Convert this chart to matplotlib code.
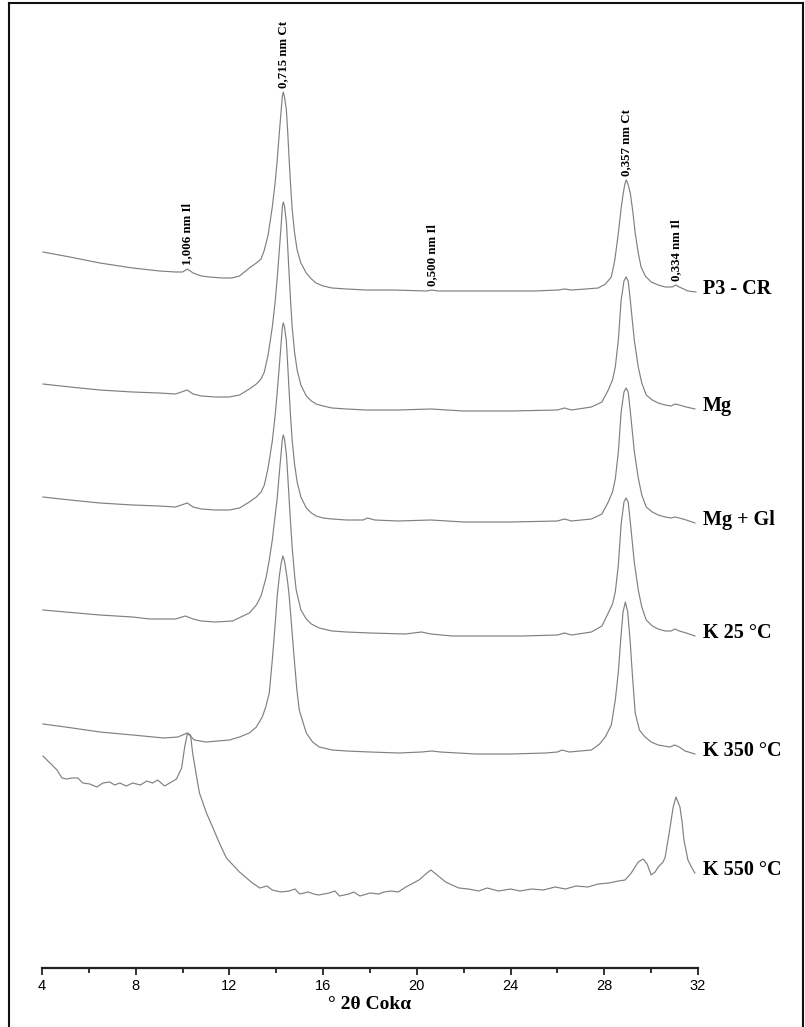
import matplotlib
matplotlib.use("Agg")
import matplotlib.pyplot as plt
from matplotlib.lines import Line2D
from matplotlib.ticker import MultipleLocator

# ---- diffractogram traces (2θ in degrees, relative intensity) ----
tt_p3 = [4.04, 5.19, 6.47, 7.87, 9.02, 9.70, 10.0, 10.21, 10.45, 10.8, 11.15, 11.7, 12.1,
         12.43, 12.85, 13.15, 13.35, 13.49, 13.65, 13.83, 13.95, 14.04, 14.13, 14.21, 14.26,
         14.30, 14.35, 14.43, 14.49, 14.55, 14.61, 14.68, 14.78, 14.89, 15.05, 15.28, 15.50,
         15.70, 16.0, 16.38, 17.0, 17.83, 19.0, 20.4, 20.64, 20.9, 22.0, 23.49, 25.0, 26.04,
         26.3, 26.6, 27.2, 27.74, 28.05, 28.30, 28.45, 28.60, 28.72, 28.81, 28.88, 28.94,
         29.01, 29.11, 29.22, 29.32, 29.45, 29.57, 29.75, 30.0, 30.3, 30.6, 30.9, 31.05,
         31.2, 31.57, 31.91]
i_p3 = [40, 35, 29, 24, 21, 20, 20, 23, 19, 16, 15, 14, 14,
        16, 24, 29, 33, 42, 57, 85, 109, 132, 159, 182, 196,
        200, 195, 182, 159, 132, 107, 82, 59, 42, 29, 19, 13,
        9, 6, 4, 3, 2, 2, 1, 2, 1, 1, 1, 1, 2,
        3, 2, 3, 4, 8, 15, 32, 59, 84, 99, 108, 112,
        108, 99, 80, 59, 39, 25, 16, 10, 7, 5, 5, 7,
        5, 1, 0]

tt_mg = [4.04, 5.2, 6.47, 7.87, 9.0, 9.7, 10.2, 10.45, 10.8, 11.4, 12.0, 12.43, 12.85,
         13.15, 13.35, 13.49, 13.65, 13.83, 13.95, 14.04, 14.13, 14.21, 14.26, 14.30, 14.35,
         14.43, 14.49, 14.55, 14.61, 14.68, 14.78, 14.89, 15.05, 15.28, 15.50, 15.70, 16.0,
         16.38, 17.0, 17.83, 19.2, 20.6, 22.0, 24.0, 26.0, 26.3, 26.6, 27.45, 27.9, 28.17,
         28.35, 28.47, 28.6, 28.72, 28.84, 28.93, 29.02, 29.11, 29.28, 29.45, 29.6, 29.79,
         30.05, 30.3, 30.6, 30.85, 31.02, 31.2, 31.5, 31.87]
i_mg = [25, 22, 19, 17, 16, 15, 19, 15, 13, 12, 12, 14, 20,
        25, 30, 37, 54, 82, 107, 131, 159, 184, 203, 207, 203,
        187, 161, 134, 108, 82, 57, 39, 24, 13, 8, 5, 3,
        1, 0, -1, -1, 0, -2, -2, -1, 1, -1, 2, 7, 19,
        29, 42, 69, 109, 128, 132, 128, 109, 69, 42, 26, 14,
        9, 6, 4, 3, 5, 4, 2, 0]

tt_mggl = [4.04, 5.2, 6.47, 7.87, 9.0, 9.7, 10.2, 10.45, 10.8, 11.4, 12.0, 12.43, 12.85,
           13.15, 13.35, 13.49, 13.65, 13.83, 13.95, 14.04, 14.13, 14.21, 14.26, 14.30, 14.35,
           14.43, 14.49, 14.55, 14.61, 14.68, 14.78, 14.89, 15.05, 15.28, 15.50, 15.70, 16.0,
           16.38, 17.0, 17.7, 17.9, 18.2, 19.2, 20.6, 22.0, 24.0, 26.0, 26.3, 26.6, 27.45,
           27.9, 28.17, 28.35, 28.47, 28.6, 28.72, 28.84, 28.93, 29.02, 29.11, 29.28, 29.45,
           29.6, 29.79, 30.05, 30.3, 30.6, 30.85, 31.02, 31.2, 31.5, 31.87]
i_mggl = [26, 23, 20, 18, 17, 16, 20, 16, 14, 13, 13, 15, 21,
          26, 31, 38, 55, 82, 107, 131, 157, 181, 196, 200, 196,
          182, 157, 131, 106, 82, 59, 41, 26, 15, 10, 7, 5,
          4, 3, 3, 5, 3, 2, 3, 1, 1, 2, 4, 2, 4,
          9, 21, 31, 44, 71, 111, 131, 135, 131, 112, 72, 45,
          28, 16, 11, 8, 6, 5, 6, 5, 3, 0]

tt_k25 = [4.04, 5.0, 6.47, 7.87, 8.6, 9.7, 10.12, 10.45, 10.8, 11.4, 12.13, 12.85, 13.15,
          13.35, 13.57, 13.70, 13.83, 13.95, 14.04, 14.13, 14.21, 14.26, 14.30, 14.35, 14.43,
          14.49, 14.55, 14.61, 14.68, 14.78, 14.85, 15.05, 15.28, 15.50, 15.83, 16.38, 17.0,
          18.0, 19.5, 20.2, 20.6, 21.5, 23.0, 24.5, 26.0, 26.3, 26.6, 27.45, 27.9, 28.17,
          28.35, 28.47, 28.6, 28.72, 28.84, 28.93, 29.02, 29.11, 29.28, 29.45, 29.6, 29.79,
          30.05, 30.3, 30.6, 30.85, 31.02, 31.2, 31.5, 31.87]
i_k25 = [26, 24, 21, 19, 17, 17, 20, 17, 15, 14, 15, 23, 31,
         40, 59, 76, 96, 120, 138, 163, 184, 197, 201, 197, 182,
         160, 136, 113, 88, 61, 46, 26, 17, 12, 8, 5, 4,
         3, 2, 4, 2, 0, 0, 0, 1, 3, 1, 4, 10, 23,
         32, 44, 71, 112, 134, 138, 134, 114, 74, 46, 29, 16,
         10, 7, 5, 5, 7, 5, 3, 0]

tt_k350 = [4.04, 5.0, 6.47, 7.87, 9.2, 9.8, 10.2, 10.5, 11.0, 11.5, 12.0, 12.43, 12.85,
           13.15, 13.40, 13.55, 13.70, 13.83, 13.95, 14.04, 14.13, 14.21, 14.28, 14.35, 14.43,
           14.49, 14.55, 14.66, 14.77, 14.88, 14.98, 15.28, 15.55, 15.83, 16.38, 17.0, 18.0,
           19.23, 20.2, 20.64, 21.0, 22.5, 24.0, 25.5, 26.0, 26.2, 26.5, 27.45, 27.8, 28.04,
           28.3, 28.47, 28.6, 28.7, 28.8, 28.9, 29.0, 29.1, 29.2, 29.32, 29.5, 29.74,
           30.0, 30.3, 30.8, 31.0, 31.2, 31.45, 31.87]
i_k350 = [30, 27, 22, 19, 16, 17, 21, 14, 12, 13, 14, 17, 21,
          27, 37, 47, 61, 94, 129, 158, 178, 191, 198, 193, 181,
          171, 158, 126, 94, 64, 44, 21, 12, 7, 4, 3, 2,
          1, 2, 3, 2, 0, 0, 1, 2, 4, 2, 4, 10, 17,
          29, 54, 82, 114, 142, 152, 142, 114, 79, 41, 24, 17,
          12, 9, 7, 9, 7, 3, 0]

tt_k550 = [4.04, 4.34, 4.64, 4.85, 5.06, 5.28, 5.53, 5.74, 6.04, 6.34, 6.60, 6.89, 7.1,
           7.32, 7.6, 7.87, 8.2, 8.47, 8.72, 8.94, 9.23, 9.53, 9.74, 9.96, 10.09, 10.21,
           10.34, 10.43, 10.60, 10.72, 11.02, 11.28, 11.57, 11.87, 12.43, 12.98, 13.3, 13.6,
           13.83, 14.2, 14.55, 14.8, 15.0, 15.36, 15.6, 15.8, 16.26, 16.5, 16.7, 17.1, 17.3,
           17.57, 18.0, 18.38, 18.6, 18.9, 19.2, 19.53, 20.09, 20.43, 20.60, 20.81, 21.23,
           21.5, 21.79, 22.2, 22.64, 23.0, 23.49, 24.0, 24.4, 24.89, 25.4, 25.9, 26.34, 26.8,
           27.3, 27.74, 28.2, 28.60, 28.89, 29.15, 29.45, 29.66, 29.83, 30.0, 30.17, 30.30,
           30.51, 30.60, 30.72, 30.81, 30.94, 31.06, 31.23, 31.32, 31.40, 31.57, 31.74, 31.87]
i_k550 = [134, 127, 120, 112, 111, 112, 112, 107, 106, 103, 107, 108, 105,
          107, 104, 107, 105, 109, 107, 110, 104, 108, 111, 122, 143, 157,
          155, 137, 113, 97, 77, 63, 47, 32, 18, 7, 2, 4,
          0, -2, -1, 1, -4, -2, -4, -5, -3, -1, -6, -4, -2,
          -6, -3, -4, -2, -1, -2, 3, 10, 17, 20, 16, 8,
          5, 2, 1, -1, 2, -1, 1, -1, 1, 0, 3, 1, 4,
          3, 6, 7, 9, 10, 17, 28, 31, 26, 15, 18, 23,
          28, 33, 50, 63, 83, 93, 83, 68, 50, 30, 22, 17]

sample_names = ["P3 - CR", "Mg", "Mg + Gl", "K 25 °C", "K 350 °C", "K 550 °C"]
stack_offsets = [676, 559, 445, 332, 214, 78]

peak_labels = ["1,006 nm Il", "0,715 nm Ct", "0,500 nm Il", "0,357 nm Ct", "0,334 nm Il"]
peak_positions = [10.21, 14.30, 20.64, 28.94, 31.05]

traces = [(tt_p3, i_p3), (tt_mg, i_mg), (tt_mggl, i_mggl),
          (tt_k25, i_k25), (tt_k350, i_k350), (tt_k550, i_k550)]

W, H = 805, 1027
fig = plt.figure(figsize=(W / 100, H / 100), dpi=100)
ax = fig.add_axes([42 / W, 59 / H, 656 / W, 964 / H])

line_color = "#808080"
for (tt, ii), off, name in zip(traces, stack_offsets, sample_names):
    ax.plot(tt, [v + off for v in ii], color=line_color, lw=0.85, solid_joinstyle="round")
    ax.text(32.2, off + ii[-1] + 3, name, ha="left", va="center",
            fontsize=14.5, fontweight="bold", family="Liberation Serif", clip_on=False)

# d-spacing annotations above the top trace
tt_top, i_top = traces[0]
off_top = stack_offsets[0]
for lab, pos in zip(peak_labels, peak_positions):
    j = min(range(len(tt_top)), key=lambda k: abs(tt_top[k] - pos))
    ax.text(pos, off_top + i_top[j] + 4, lab, rotation=90, ha="center", va="bottom",
            fontsize=9.3, fontweight="bold", family="Liberation Serif")

ax.set_xlim(4, 32)
ax.set_ylim(0, 964)
for s in ("top", "right", "left"):
    ax.spines[s].set_visible(False)
ax.spines["bottom"].set_linewidth(1.6)
ax.spines["bottom"].set_color("#222222")
ax.set_yticks([])
ax.xaxis.set_major_locator(MultipleLocator(4))
ax.xaxis.set_minor_locator(MultipleLocator(2))
ax.tick_params(axis="x", which="major", direction="out", length=5, width=1.3,
               color="#222222", pad=3, labelsize=10.5)
ax.tick_params(axis="x", which="minor", direction="out", length=3.5, width=1.3,
               color="#222222")
for t in ax.get_xticklabels():
    t.set_family("Liberation Sans")
ax.set_xlabel("° 2θ Cokα", fontsize=14, fontweight="bold", family="Liberation Serif",
              labelpad=2)

# outer frame
frame_kw = dict(color="#111111", lw=1.5, transform=fig.transFigure)
fig.add_artist(Line2D([9 / W, 9 / W], [0, 1 - 3 / H], **frame_kw))
fig.add_artist(Line2D([9 / W, 803 / W], [1 - 3 / H, 1 - 3 / H], **frame_kw))
fig.add_artist(Line2D([803 / W, 803 / W], [0, 1 - 3 / H], **frame_kw))

fig.savefig("out.png", dpi=100)
